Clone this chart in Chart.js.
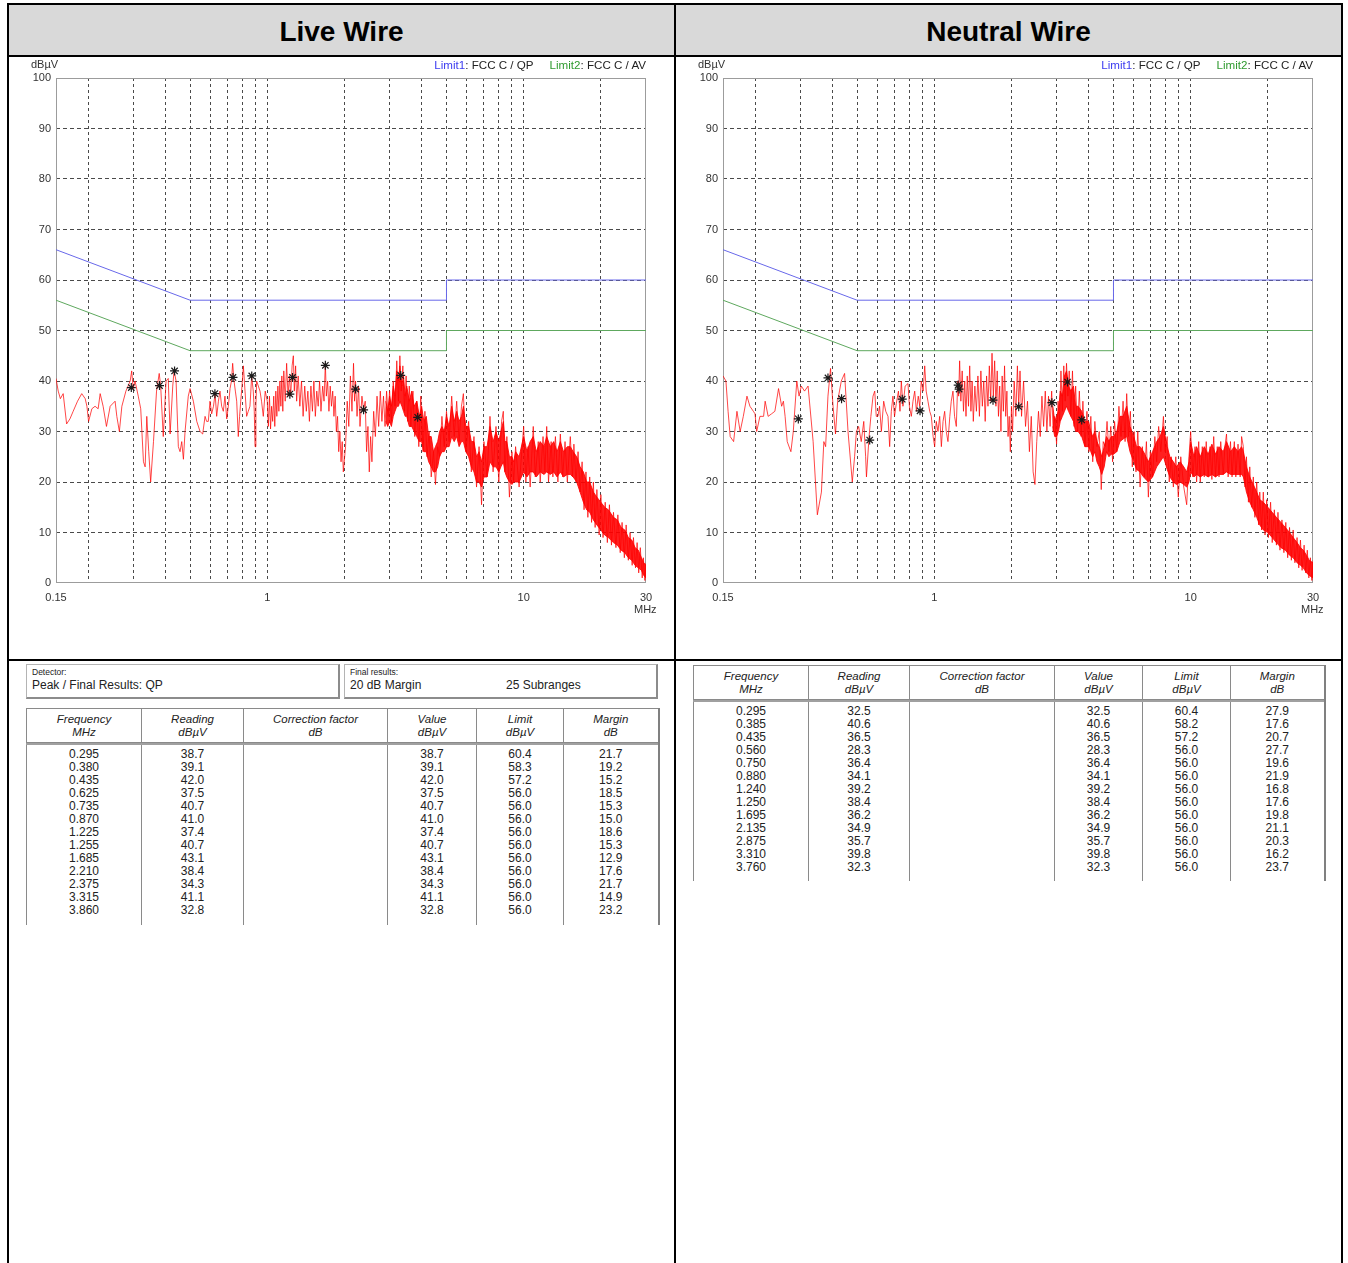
<!DOCTYPE html>
<html><head><meta charset="utf-8">
<script src="https://cdn.jsdelivr.net/npm/chart.js@4.4.0/dist/chart.umd.min.js"></script>
<style>
html,body{margin:0;padding:0;background:#fff;}
body{width:1348px;height:1263px;position:relative;overflow:hidden;font-family:"Liberation Sans",Arial,sans-serif;}
.ln{position:absolute;background:#000;}
.hdr{position:absolute;top:5px;height:50px;box-sizing:border-box;padding-top:3px;background:#d9d9d9;display:flex;align-items:center;justify-content:center;font-weight:bold;font-size:28px;color:#000;}
canvas.cv{position:absolute;}
.lbl{position:absolute;font-size:11px;color:#333;white-space:nowrap;line-height:11px;z-index:2;}
.lg{position:absolute;font-size:11.6px;color:#222;white-space:nowrap;line-height:11px;z-index:2;text-align:right;}
.lg .gap{display:inline-block;width:16px;}
.box{position:absolute;box-sizing:border-box;border:1px solid #b4b4b4;border-right:2px solid #8c8c8c;border-bottom:2px solid #8c8c8c;color:#222;}
.box .s{position:absolute;left:5px;top:3px;font-size:8.5px;line-height:9px;}
.box .b{position:absolute;top:14px;font-size:12px;line-height:13px;white-space:nowrap;}
table.res{position:absolute;border-collapse:collapse;table-layout:fixed;color:#222;}
table.res th{font-weight:normal;font-style:italic;font-size:11.5px;line-height:13px;border:1px solid #8a8a8a;padding:0;text-align:center;}
table.res td{font-size:12px;line-height:13px;vertical-align:top;text-align:center;border-left:1px solid #8a8a8a;border-right:1px solid #8a8a8a;padding:3px 0 0 0;white-space:pre;}
table.hd{border:1px solid #9a9a9a;border-right:2px solid #808080;}
table.bd{border-top:2px solid #a0a0a0;border-right:2px solid #808080;}
</style>
</head><body>

<div class="hdr" style="left:9px;width:665px;">Live Wire</div>
<div class="hdr" style="left:676px;width:665px;">Neutral Wire</div>

<div class="ln" style="left:7px;top:3px;width:1336px;height:2px;"></div>
<div class="ln" style="left:7px;top:55px;width:1336px;height:2px;"></div>
<div class="ln" style="left:7px;top:659px;width:1336px;height:2px;"></div>
<div class="ln" style="left:7px;top:3px;width:2px;height:1260px;"></div>
<div class="ln" style="left:674px;top:3px;width:2px;height:1260px;"></div>
<div class="ln" style="left:1341px;top:3px;width:2px;height:1260px;"></div>

<canvas id="cLive" class="cv" width="665" height="602" style="left:9px;top:57px;width:665px;height:602px;"></canvas>
<canvas id="cNeutral" class="cv" width="665" height="602" style="left:676px;top:57px;width:665px;height:602px;"></canvas>

<div class="lbl" style="left:31px;top:59px;">dBµV</div>
<div class="lg" style="right:702px;top:59px;"><span style="color:#3b3bf0">Limit1</span>: FCC C / QP<span class="gap"></span><span style="color:#2f9a2f">Limit2</span>: FCC C / AV</div>
<div class="lbl" style="left:634px;top:604px;">MHz</div>

<div class="lbl" style="left:698px;top:59px;">dBµV</div>
<div class="lg" style="right:35px;top:59px;"><span style="color:#3b3bf0">Limit1</span>: FCC C / QP<span class="gap"></span><span style="color:#2f9a2f">Limit2</span>: FCC C / AV</div>
<div class="lbl" style="left:1301px;top:604px;">MHz</div>

<div class="box" style="left:26px;top:664px;width:314px;height:35px;">
  <div class="s">Detector:</div>
  <div class="b" style="left:5px;">Peak / Final Results: QP</div>
</div>
<div class="box" style="left:344px;top:664px;width:314px;height:35px;">
  <div class="s">Final results:</div>
  <div class="b" style="left:5px;">20 dB Margin</div>
  <div class="b" style="left:161px;">25 Subranges</div>
</div>

<div id="tables"></div>

<script>
// ---------------- DATA ----------------
const xGridValues = [0.15,0.2,0.3,0.4,0.5,0.6,0.7,0.8,0.9,1,2,3,4,5,6,7,8,9,10,20,30];
const xTickLabels = {0.15:'0.15', 1:'1', 10:'10', 30:'30'};

const limitFreq = [0.15, 0.5, 5, 5, 30];
const limit1QP  = [66, 56, 56, 60, 60];
const limit2AV  = [56, 46, 46, 50, 50];

const tableHeaders = [['Frequency','MHz'],['Reading','dBµV'],['Correction factor','dB'],['Value','dBµV'],['Limit','dBµV'],['Margin','dB']];

// Live wire final results
const liveFreq    = ['0.295','0.380','0.435','0.625','0.735','0.870','1.225','1.255','1.685','2.210','2.375','3.315','3.860'];
const liveReading = ['38.7','39.1','42.0','37.5','40.7','41.0','37.4','40.7','43.1','38.4','34.3','41.1','32.8'];
const liveValue   = ['38.7','39.1','42.0','37.5','40.7','41.0','37.4','40.7','43.1','38.4','34.3','41.1','32.8'];
const liveLimit   = ['60.4','58.3','57.2','56.0','56.0','56.0','56.0','56.0','56.0','56.0','56.0','56.0','56.0'];
const liveMargin  = ['21.7','19.2','15.2','18.5','15.3','15.0','18.6','15.3','12.9','17.6','21.7','14.9','23.2'];

// Neutral wire final results
const neutralFreq    = ['0.295','0.385','0.435','0.560','0.750','0.880','1.240','1.250','1.695','2.135','2.875','3.310','3.760'];
const neutralReading = ['32.5','40.6','36.5','28.3','36.4','34.1','39.2','38.4','36.2','34.9','35.7','39.8','32.3'];
const neutralValue   = ['32.5','40.6','36.5','28.3','36.4','34.1','39.2','38.4','36.2','34.9','35.7','39.8','32.3'];
const neutralLimit   = ['60.4','58.2','57.2','56.0','56.0','56.0','56.0','56.0','56.0','56.0','56.0','56.0','56.0'];
const neutralMargin  = ['27.9','17.6','20.7','27.7','19.6','21.9','16.8','17.6','19.8','21.1','20.3','16.2','23.7'];

// Live peak scan trace [MHz, dBµV]
const liveTrace = [
[0.150,40.5],[0.153,38],[0.156,36.5],[0.160,37.5],[0.165,31.5],[0.170,32.5],[0.175,34],[0.182,36],[0.189,37.5],[0.195,36.5],[0.198,35],[0.201,32],[0.207,34.5],[0.213,35],[0.219,34.5],[0.223,37.5],[0.229,35],[0.236,31],[0.244,35],[0.255,36],[0.259,33],[0.265,30],[0.271,35],[0.281,38],[0.292,40],[0.296,42],[0.300,38.5],[0.305,40],[0.314,37],[0.321,34.5],[0.329,24],[0.334,23],[0.339,33],[0.345,26],[0.351,20],[0.360,28],[0.370,38],[0.379,41.5],[0.384,39],[0.393,29],[0.403,40],[0.411,40.5],[0.418,29.5],[0.428,39],[0.433,42],[0.441,40],[0.450,27],[0.457,26],[0.464,28],[0.471,24.5],[0.478,30],[0.492,37],[0.500,38.5],[0.515,36],[0.531,32],[0.547,30],[0.560,29.5],[0.572,33],[0.580,32],[0.589,32],[0.598,36],[0.607,33.5],[0.617,35],[0.626,37.5],[0.635,33],[0.645,36],[0.654,38],[0.664,35],[0.674,34],[0.684,37],[0.695,32.5],[0.705,35],[0.716,38.5],[0.725,40],[0.733,43.5],[0.742,40],[0.751,38],[0.760,36],[0.771,29],[0.780,33],[0.788,36],[0.797,39],[0.807,43],[0.819,38],[0.831,33],[0.843,34],[0.856,35],[0.863,38],[0.869,41],[0.882,38],[0.890,34],[0.896,27],[0.903,35],[0.909,40],[0.923,39],[0.937,38],[0.950,36],[0.965,33],[0.982,38],[1.000,36],
[1.010,31],[1.020,37],[1.030,30.5],[1.040,35],[1.050,32],[1.060,37],[1.070,31],[1.080,38],[1.090,33],[1.100,39],[1.110,34],[1.120,40],[1.130,35],[1.140,41],[1.150,34],[1.160,42],[1.175,36],[1.190,43.5],[1.205,37],[1.220,41],[1.235,37],[1.250,43],[1.264,45],[1.275,38],[1.290,43],[1.302,36],[1.320,41],[1.340,35],[1.360,40],[1.380,33],[1.400,39],[1.420,34],[1.440,38],[1.460,32],[1.480,39],[1.500,34],[1.520,40],[1.540,33],[1.560,38],[1.580,35],[1.600,40],[1.620,34],[1.645,39],[1.665,36],[1.685,43.5],[1.700,37],[1.720,40],[1.740,34],[1.760,39],[1.780,35],[1.800,38],[1.820,33],[1.840,37],[1.860,30],[1.880,33],[1.900,26],[1.920,30],[1.940,24],[1.960,28],[1.980,22],
[2.02,27],[2.05,36],[2.08,31],[2.11,41],[2.14,34],[2.17,43.5],[2.19,36],[2.21,40],[2.24,33],[2.27,39],[2.30,31],[2.34,37],[2.375,34.3],[2.41,36],[2.44,26],[2.47,31],[2.50,22],[2.53,29],[2.56,24],[2.60,34],[2.64,29],[2.68,37],[2.72,31],[2.76,38],[2.80,32],[2.84,37],[2.88,31],[2.92,38],[2.96,33],[3.00,38],[3.05,32],[3.10,40],[3.15,35],[3.20,44],[3.25,36],[3.29,45],[3.33,38],[3.38,43],[3.43,34],[3.48,41],[3.53,32],[3.58,39],[3.63,31],[3.70,38],[3.76,29],[3.83,36],[3.90,27],[3.97,37],[4.05,26],[4.12,34],[4.20,25],[4.28,30],[4.36,21],[4.45,26],[4.53,19.5],[4.62,27],[4.70,25],[4.80,33],[4.90,27],[5.00,34],[5.12,28],[5.24,37],[5.36,29],[5.48,36],[5.60,28],[5.72,35],[5.82,37.5],[5.95,26],[6.1,32],[6.25,22],[6.4,29],[6.55,19],[6.7,27],[6.85,15.5],[7.0,28],[7.2,21],[7.39,33],[7.6,22],[7.8,31],[8.0,20],[8.2,32],[8.33,34],[8.45,22],[8.6,29],[8.8,17],[9.0,26],[9.14,20],[9.3,27],[9.6,19],
[10.0,31],[10.2,20],[10.4,27],[10.6,19],[10.9,31],[11.1,21],[11.4,28],[11.6,20],[11.9,29],[12.1,22],[12.3,31],[12.5,20],[12.8,28],[13.0,21],[13.3,29],[13.6,20],[13.9,29.5],[14.2,21],[14.5,28],[14.8,20],[15.2,29],[15.5,21],[15.7,27.5],[16.0,20],[16.3,26],[16.6,18],[16.9,24],[17.2,14.5],[17.5,22],[17.8,13],[18.1,21],[18.4,12],[18.7,20],[19.0,11],[19.3,18.5],[19.7,9.5],[20.0,17.5],[20.4,9],[20.8,16],[21.2,8],[21.6,15.5],[22.0,7.5],[22.4,14],[22.9,7],[23.3,13.5],[23.8,6],[24.2,12],[24.7,5],[25.1,11.5],[25.6,4.5],[26.0,10],[26.5,3.5],[26.8,9],[27.3,3],[27.7,8],[28.1,2],[28.5,7],[29.0,1],[29.3,5],[29.7,0.5],[30,4]
];
// Live dense band [MHz, upper edge, lower edge] of the solid red area
const liveBand = [
[2.9,36,32],[2.95,34,31],[3.0,37,32],[3.05,35,31],[3.1,39,33],[3.15,37,34],[3.2,42,35],[3.25,40,35],[3.29,43,36],[3.35,39,35],[3.4,41,34],[3.45,37,33],[3.5,39,33],[3.58,36,31],[3.66,38,31],[3.74,35,30],[3.83,36,29],[3.92,33,28],[4.0,35,28],[4.08,32,26],[4.17,33,26],[4.26,29,24],[4.36,29,23],[4.45,26,22],[4.53,27,22],[4.62,28,23],[4.7,30,25],[4.8,31,26],[4.9,30,26],[5.0,33,27],[5.12,31,27],[5.24,35,29],[5.36,32,28],[5.48,34,29],[5.6,32,27],[5.72,33,28],[5.82,35,28],[5.95,31,26],[6.1,31,25],[6.25,28,23],[6.4,28,22],[6.55,25,20],[6.7,26,20],[6.85,24,19],[7.0,27,21],[7.2,27,21],[7.39,31,24],[7.6,28,23],[7.8,30,23],[8.0,28,22],[8.15,30,23],[8.33,32,24],[8.45,28,22],[8.59,28,21],[8.8,25,20],[9.0,25,19.5],[9.14,24,20],[9.3,26,20],[9.6,25,20],[10.0,29,22],[10.3,26,21],[10.6,28,22],[10.9,29,22],[11.2,26,21],[11.6,28,22],[12.0,27,21.5],[12.3,29,22],[12.7,27,21.5],[13.1,28,22],[13.5,26,21],[13.9,28,22],[14.3,26,21],[14.8,27,21.5],[15.2,27,21.5],[15.6,26,21],[16.1,25,20],[16.6,23,18],[17.1,22,16],[17.6,20,14.5],[18.1,20,14],[18.7,18,12.5],[19.3,17,11.5],[20.0,16,10.5],[20.7,15,9.5],[21.4,14.5,9],[22.4,13,8],[23.2,12.5,7.5],[24.0,11,6.5],[24.8,10.5,6],[25.6,9,5],[26.4,8.5,4.5],[27.2,7,3.5],[28.0,6.5,3],[28.8,5,2.5],[29.4,4,1.5],[30,3.5,1]
];

// Neutral peak scan trace [MHz, dBµV]
const neutralTrace = [
[0.150,41],[0.154,40],[0.157,34],[0.160,29],[0.165,28],[0.170,34],[0.175,30],[0.180,33],[0.186,37],[0.191,35],[0.197,34],[0.200,33.5],[0.203,30],[0.209,33],[0.216,33],[0.219,36],[0.225,33],[0.232,33.5],[0.239,34],[0.247,38.5],[0.254,35],[0.258,36],[0.262,33],[0.267,28],[0.276,26],[0.282,30],[0.291,40],[0.297,37],[0.303,39],[0.312,38],[0.322,39],[0.337,28],[0.350,13.5],[0.363,18],[0.371,28],[0.377,27],[0.385,37],[0.394,42.5],[0.403,35],[0.412,29.5],[0.420,36],[0.434,40],[0.447,41.5],[0.461,30],[0.479,20],[0.489,25],[0.497,30],[0.507,31],[0.519,28],[0.531,32],[0.540,25],[0.544,21],[0.557,29],[0.566,33],[0.577,37],[0.586,38],[0.594,33],[0.603,33],[0.612,35],[0.622,30],[0.635,36],[0.647,34],[0.660,33],[0.670,27],[0.680,34],[0.690,37],[0.700,33],[0.711,35.5],[0.725,38],[0.735,34],[0.744,40],[0.755,35],[0.770,39],[0.790,39.5],[0.800,35],[0.814,33],[0.826,36],[0.839,38],[0.852,34],[0.866,37],[0.878,35],[0.890,40],[0.905,38],[0.918,43],[0.930,38],[0.945,36],[0.960,34],[0.974,33],[0.990,29],[1.004,27],[1.018,32],[1.034,30],[1.050,33],[1.066,27],[1.082,32],[1.098,34],[1.114,30],[1.131,28],[1.150,33],[1.165,36],[1.183,38],[1.200,33],[1.219,31],[1.235,40],[1.245,37],[1.256,44],
[1.270,36],[1.285,42],[1.300,34],[1.315,40],[1.330,33],[1.345,41],[1.360,35],[1.375,43],[1.390,34],[1.405,40],[1.420,32],[1.440,39],[1.460,34],[1.480,41],[1.500,33],[1.520,42],[1.540,35],[1.560,40],[1.580,32],[1.600,41],[1.620,35],[1.640,43],[1.660,36],[1.680,45.5],[1.700,37],[1.720,44],[1.740,35],[1.760,42],[1.780,33],[1.800,39],[1.820,30],[1.840,41],[1.860,34],[1.880,43],[1.900,33],[1.920,38],[1.940,29],[1.960,33],[1.980,26],[2.000,35],
[2.02,30],[2.05,40],[2.08,33],[2.11,43],[2.135,35],[2.16,42],[2.19,33],[2.23,40],[2.27,31],[2.31,36],[2.35,26],[2.39,33],[2.43,22],[2.47,19.5],[2.51,28],[2.55,34],[2.59,29],[2.63,37],[2.67,31],[2.71,38],[2.75,30],[2.79,37],[2.83,31],[2.87,38],[2.91,30],[2.95,33],[3.00,27.5],[3.04,36],[3.08,32],[3.12,42],[3.16,34],[3.20,43],[3.24,36],[3.28,43.5],[3.32,37],[3.36,42],[3.41,33],[3.46,42],[3.51,31],[3.56,39],[3.62,30],[3.68,38],[3.74,29],[3.80,36],[3.87,27],[3.94,34],[4.01,26],[4.08,33],[4.15,24],[4.23,32],[4.31,27],[4.40,30],[4.48,18.5],[4.56,28],[4.64,27],[4.72,32],[4.80,26],[4.88,31],[4.96,24],[5.05,32],[5.15,26],[5.25,35],[5.35,29],[5.45,36],[5.55,28],[5.63,37.5],[5.72,29],[5.82,34],[5.92,23],[6.02,30],[6.12,22],[6.22,30],[6.35,19],[6.48,27],[6.60,21],[6.72,28],[6.84,17],[6.96,26],[7.10,21],[7.25,29],[7.37,24],[7.50,31],[7.65,26],[7.83,33],[7.95,26],[8.10,29],[8.25,20],[8.40,25],[8.56,19],[8.75,25],[8.95,17],[9.15,25],[9.40,19],[9.65,15.5],[9.85,25],
[10.0,30],[10.2,21],[10.4,27],[10.55,20],[10.75,28],[10.9,20],[11.1,27],[11.3,21],[11.5,28],[11.7,21],[11.9,27],[12.1,20.5],[12.3,29],[12.5,21],[12.7,27],[12.9,21],[13.1,28],[13.4,21.5],[13.6,27],[13.8,29.5],[14.0,21],[14.3,28],[14.5,21],[14.8,28],[15.0,21],[15.3,27.5],[15.6,21],[15.8,29],[16.05,27],[16.3,19],[16.5,25],[16.8,16],[17.0,23],[17.3,15],[17.55,21],[17.8,13],[18.1,20],[18.4,11.5],[18.6,18],[18.9,10.5],[19.2,18],[19.5,9.5],[19.8,16.5],[20.1,9],[20.5,16],[20.8,8],[21.2,14.5],[21.6,7.5],[21.9,14],[22.3,6.5],[22.7,12.5],[23.1,6],[23.5,12],[23.9,5],[24.3,11],[24.7,4.5],[25.1,10.5],[25.5,4],[26.0,9],[26.4,3],[26.8,8.5],[27.2,2.5],[27.7,7.5],[28.1,2],[28.5,6.5],[28.9,1],[29.3,5],[29.7,0.5],[30,4.5]
];
// Neutral dense band [MHz, upper edge, lower edge]
const neutralBand = [
[2.9,35,31],[2.95,32,29],[3.0,33,29],[3.05,34,30],[3.1,38,32],[3.16,37,33],[3.22,41,34],[3.28,42,35],[3.34,39,34],[3.41,38,33],[3.49,39,32],[3.56,35,30],[3.64,35,30],[3.76,34,29],[3.87,32,27],[4.0,32,27],[4.08,30,26],[4.15,29,25],[4.23,30,26],[4.31,28,24],[4.4,27,23],[4.5,25,21.5],[4.6,27,23],[4.7,29,26],[4.8,28,25],[4.9,29,25.5],[5.0,29,25.5],[5.15,30,26],[5.3,33,28],[5.45,33,28.5],[5.63,35,29],[5.8,31,26],[6.0,29,24],[6.15,27,22.5],[6.35,27,22],[6.55,26,21],[6.84,24,20],[7.1,26,21],[7.37,28,23],[7.6,29,24],[7.83,31,25],[8.1,27,22.5],[8.3,25,21],[8.56,24,20],[8.8,23,19.5],[9.1,24,20],[9.4,23,19.5],[9.65,22,19],[9.85,24,20],[10.0,28,22],[10.3,25,21],[10.55,27,21.5],[10.9,25,21],[11.3,27,21.5],[11.7,25.5,21],[12.1,27.5,21.5],[12.5,25.5,21],[12.9,27,21.5],[13.4,26,21.5],[13.8,28,22],[14.3,26,21.5],[14.8,27,21.5],[15.3,26,21.5],[15.8,27,21.5],[16.05,26,21],[16.5,23,18],[17.0,21,16],[17.55,19.5,14.5],[18.1,18,13],[18.6,16.5,11.5],[19.2,16,10.5],[20.0,15,10],[20.8,14,9],[21.6,13,8],[22.5,12,7],[23.4,11,6.5],[24.3,10,5.5],[25.1,9,5],[26.0,8,4],[26.8,7,3.5],[27.5,6.5,3],[28.3,5.5,2],[29.0,4.5,1.5],[30,4,1]
];

// ---------------- CHARTS ----------------
Chart.defaults.font.family = '"Liberation Sans", Arial, sans-serif';
Chart.defaults.font.size = 11;

const framePlugin = {
  id: 'frame',
  beforeDatasetsDraw(chart) {
    const {ctx, chartArea: a} = chart;
    ctx.save();
    ctx.strokeStyle = '#9c9c9c';
    ctx.lineWidth = 1;
    ctx.setLineDash([]);
    ctx.strokeRect(Math.round(a.left) + 0.5, Math.round(a.top) + 0.5, Math.round(a.right - a.left) - 1, Math.round(a.bottom - a.top) - 1);
    ctx.restore();
  }
};

function makeChart(id, trace, band, qpFreq, qpValue) {
  const xy = (fs, vs) => fs.map((f, i) => ({x: Number(f), y: Number(vs[i])}));
  new Chart(document.getElementById(id), {
    type: 'line',
    data: {
      datasets: [
        {data: xy(qpFreq, qpValue), showLine: false, pointStyle: 'star', pointRadius: 4.5, pointBorderColor: '#1a1a1a', pointBackgroundColor: '#1a1a1a', pointBorderWidth: 1.2, order: 0},
        {data: xy(limitFreq, limit1QP), borderColor: '#6868ea', borderWidth: 1, pointRadius: 0, fill: false, order: 1},
        {data: xy(limitFreq, limit2AV), borderColor: '#5ea85e', borderWidth: 1, pointRadius: 0, fill: false, order: 1},
        {data: trace.map(p => ({x: p[0], y: p[1]})), borderColor: 'rgba(255,0,0,0.72)', borderWidth: 1, pointRadius: 0, fill: false, order: 2},
        {data: band.map(p => ({x: p[0], y: p[1]})), borderColor: 'rgba(255,0,0,0.85)', borderWidth: 1, pointRadius: 0, fill: '+1', backgroundColor: 'rgba(255,0,0,0.88)', order: 3},
        {data: band.map(p => ({x: p[0], y: p[2]})), borderColor: 'rgba(255,0,0,0.85)', borderWidth: 1, pointRadius: 0, fill: false, order: 3}
      ]
    },
    options: {
      responsive: false, animation: false, devicePixelRatio: 1,
      layout: {padding: {left: 0, top: 21, right: 28, bottom: 0}},
      plugins: {legend: {display: false}, tooltip: {enabled: false}},
      elements: {line: {tension: 0}},
      scales: {
        x: {
          type: 'logarithmic', min: 0.15, max: 30,
          afterBuildTicks: s => { s.ticks = xGridValues.map(v => ({value: v})); },
          afterFit: s => { s.height = 76; },
          ticks: {autoSkip: false, maxRotation: 0, minRotation: 0, padding: 8, color: '#333',
                  callback: v => (xTickLabels[v] !== undefined ? xTickLabels[v] : '')},
          grid: {drawTicks: false, lineWidth: 1,
                 color: c => (c.tick && (c.tick.value === 0.15 || c.tick.value === 30)) ? 'rgba(0,0,0,0)' : '#4a4a4a'},
          border: {display: false, dash: [3, 3]}
        },
        y: {
          type: 'linear', min: 0, max: 100,
          afterFit: s => { s.width = 47; },
          ticks: {stepSize: 10, padding: 5, color: '#333'},
          grid: {drawTicks: false, lineWidth: 1,
                 color: c => (c.tick && (c.tick.value === 0 || c.tick.value === 100)) ? 'rgba(0,0,0,0)' : '#4a4a4a'},
          border: {display: false, dash: [4, 3]}
        }
      }
    },
    plugins: [framePlugin]
  });
}

makeChart('cLive', liveTrace, liveBand, liveFreq, liveValue);
makeChart('cNeutral', neutralTrace, neutralBand, neutralFreq, neutralValue);

// ---------------- TABLES ----------------
function buildTable(left, headTop, headH, bodyTop, bodyH, widths, cols) {
  const host = document.getElementById('tables');
  const total = widths.reduce((a, b) => a + b, 0);
  const colgroup = '<colgroup>' + widths.map(w => '<col style="width:' + w + 'px">').join('') + '</colgroup>';
  const hd = document.createElement('table');
  hd.className = 'res hd';
  hd.style.cssText = 'left:' + left + 'px;top:' + headTop + 'px;width:' + total + 'px;height:' + headH + 'px;';
  hd.innerHTML = colgroup + '<tr style="height:' + headH + 'px">' + tableHeaders.map(h => '<th>' + h[0] + '<br>' + h[1] + '</th>').join('') + '</tr>';
  host.appendChild(hd);
  const bd = document.createElement('table');
  bd.className = 'res bd';
  bd.style.cssText = 'left:' + left + 'px;top:' + bodyTop + 'px;width:' + total + 'px;height:' + bodyH + 'px;';
  bd.innerHTML = colgroup + '<tr style="height:' + bodyH + 'px">' + cols.map(c => '<td>' + c.join('\n') + '</td>').join('') + '</tr>';
  host.appendChild(bd);
}
const blank = liveFreq.map(() => '');
buildTable(26, 708, 34, 743, 181, [115,102,144,89,87,95],
  [liveFreq, liveReading, blank, liveValue, liveLimit, liveMargin]);
buildTable(693, 665, 34, 700, 180, [115,101,145,88,88,94],
  [neutralFreq, neutralReading, blank, neutralValue, neutralLimit, neutralMargin]);
</script>
</body></html>
